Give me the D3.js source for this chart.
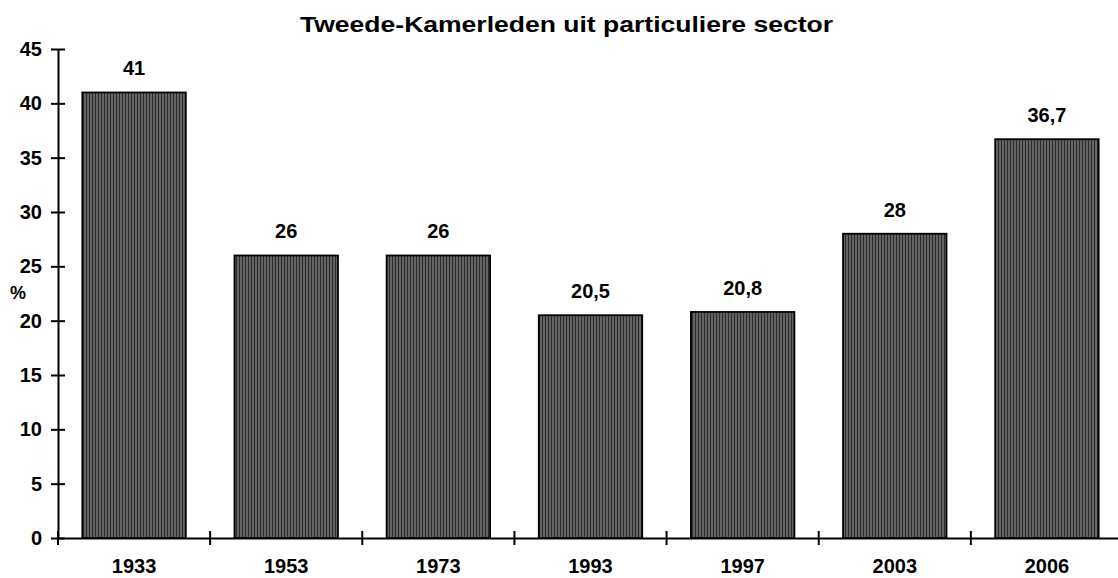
<!DOCTYPE html>
<html><head><meta charset="utf-8">
<script src="https://cdn.jsdelivr.net/npm/d3@7"></script>
<style>body{margin:0;background:#fff}svg{display:block}text{font-family:"Liberation Sans",Arial,sans-serif;font-weight:bold;fill:#000}</style>
</head><body><svg id="c" width="1118" height="578"></svg>
<script>
const categories = ["1933","1953","1973","1993","1997","2003","2006"];
const values = [41, 26, 26, 20.5, 20.8, 28, 36.7];
const valueLabels = ["41","26","26","20,5","20,8","28","36,7"];
const yTicks = [0,5,10,15,20,25,30,35,40,45];
const title = "Tweede-Kamerleden uit particuliere sector";
const yLabel = "%";

const svg = d3.select("#c");
const x0 = 58, x1 = 1123, yTop = 49, yBot = 538;
const x = d3.scaleBand().domain(categories).range([x0, x1]).paddingInner(0.32).paddingOuter(0.16);
const y = d3.scaleLinear().domain([0,45]).range([yBot, yTop]);
const FONT = '"Liberation Sans",Arial,sans-serif';

const defs = svg.append("defs");
const pat = defs.append("pattern").attr("id","stripes").attr("patternUnits","userSpaceOnUse").attr("width",3).attr("height",10);
pat.append("rect").attr("width",3).attr("height",10).attr("fill","#646464");
pat.append("rect").attr("x",2).attr("width",1).attr("height",10).attr("fill","#2a2a2a");

svg.append("text").attr("x",300).attr("y",32).style("font-size","22px")
  .attr("textLength",533).attr("lengthAdjust","spacingAndGlyphs").text(title);

svg.selectAll("rect.bar").data(values).enter().append("rect").attr("class","bar")
  .attr("x",(d,i)=>x(categories[i])).attr("width",x.bandwidth())
  .attr("y",d=>y(d)).attr("height",d=>yBot-y(d))
  .attr("fill","url(#stripes)").attr("stroke","#000").attr("stroke-width",1.8);

svg.selectAll("text.val").data(values).enter().append("text").attr("class","val")
  .attr("x",(d,i)=>x(categories[i])+x.bandwidth()/2).attr("y",d=>y(d)-17)
  .attr("text-anchor","middle").style("font-size","20px").text((d,i)=>valueLabels[i]);

// y axis
const yAxis = d3.axisLeft(y).tickValues(yTicks).tickSize(0).tickPadding(16);
const gy = svg.append("g").attr("transform",`translate(${x0},0)`).call(yAxis);
gy.select(".domain").attr("stroke","#000").attr("stroke-width",2);
gy.selectAll("text").style("font-size","20px").style("font-family",FONT).style("font-weight","bold").attr("fill","#000");
gy.selectAll(".tick").append("line").attr("x1",-7).attr("x2",7).attr("stroke","#000").attr("stroke-width",2);

// x axis
const xAxis = d3.axisBottom(x).tickSize(0).tickPadding(21);
const gx = svg.append("g").attr("transform",`translate(0,${yBot})`).call(xAxis);
gx.select(".domain").attr("stroke","#000").attr("stroke-width",2);
gx.selectAll("text").style("font-size","20px").style("font-family",FONT).style("font-weight","bold").attr("fill","#000");
const step = x.step();
const bounds = d3.range(categories.length+1).map(i=>x0+i*step);
svg.selectAll("line.xt").data(bounds).enter().append("line").attr("class","xt")
  .attr("x1",d=>d).attr("x2",d=>d).attr("y1",yBot-7).attr("y2",yBot+7).attr("stroke","#000").attr("stroke-width",2);

svg.append("text").attr("x",18).attr("y",299).attr("text-anchor","middle").style("font-size","18px").text(yLabel);
</script></body></html>
